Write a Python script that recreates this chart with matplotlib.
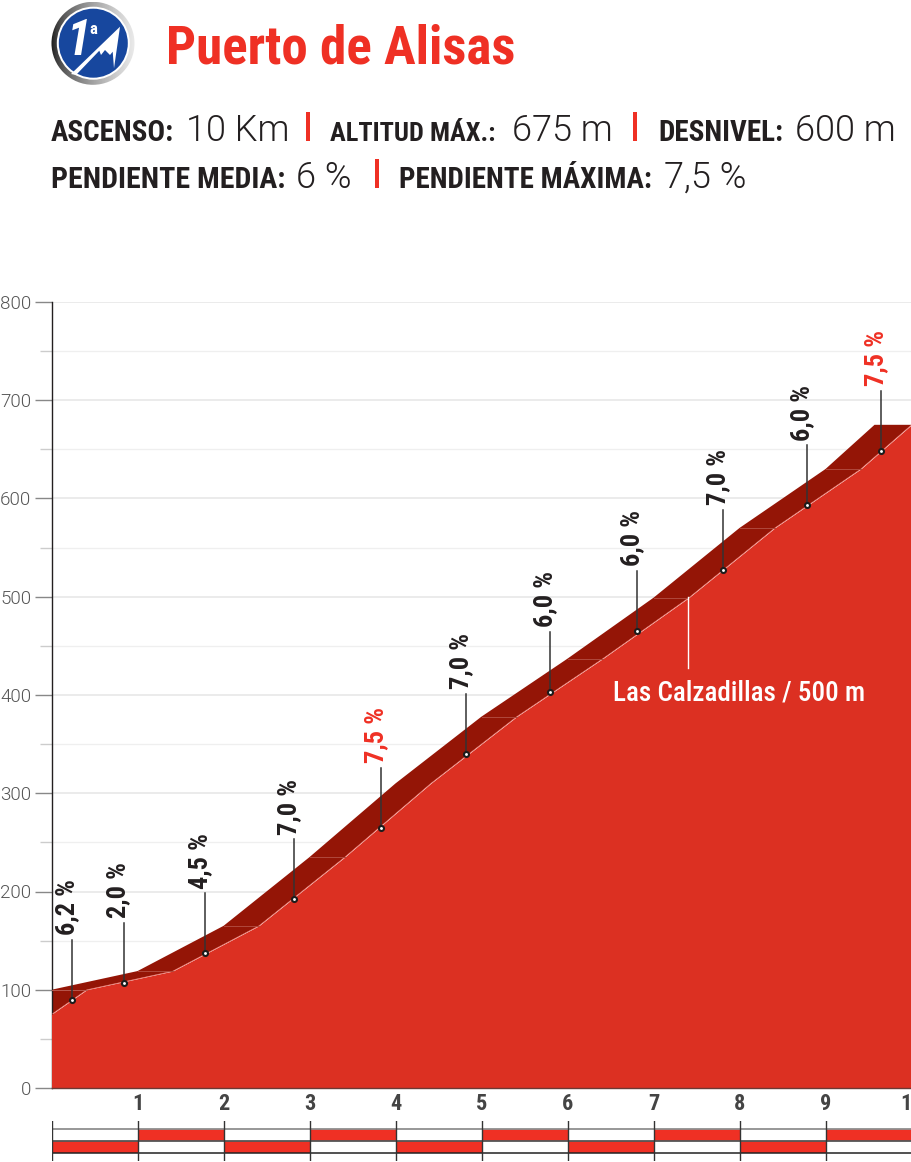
import matplotlib
matplotlib.use('Agg')
import matplotlib.pyplot as plt
import numpy as np
from matplotlib.patches import Circle, Polygon, Rectangle

# perfil del puerto (km, altitud)
km_top = [0, 1, 2, 3, 4, 5, 6, 7, 8, 9, 9.57, 10]
alt_top = [100, 119, 165, 235, 310, 378, 437, 499, 570, 630, 675, 675]
km_low = [0, 0.41, 1.41, 2.41, 3.41, 4.41, 5.41, 6.41, 7.41, 8.41, 9.41, 10]
alt_low = [75, 100, 119, 165, 235, 310, 378, 437, 499, 570, 630, 675]
km_sin_linea = [4]

# pendientes
km_pend = [0.24, 0.84, 1.79, 2.82, 3.83, 4.82, 5.80, 6.81, 7.81, 8.79, 9.65]
alt_pend = [90, 107, 137, 192, 265, 340, 403, 465, 527, 593, 648]
pendientes = ['6,2 %', '2,0 %', '4,5 %', '7,0 %', '7,5 %', '7,0 %', '6,0 %', '6,0 %', '7,0 %', '6,0 %', '7,5 %']
pend_rojas = ['7,5 %']

y_ticks = [0, 100, 200, 300, 400, 500, 600, 700, 800]
y_minor = [50, 150, 250, 350, 450, 550, 650, 750]
km_ticks = [1, 2, 3, 4, 5, 6, 7, 8, 9, 10]

NARROW = 'Roboto Condensed'
LIGHT = 'Roboto'

ROJO = '#dc3022'
OSCURO = '#941506'
ROJO_TXT = '#ef3024'
NEGRO = '#231f20'
W, H = 911, 1162

fig = plt.figure(figsize=(W / 100, H / 100), dpi=100, facecolor='white')

# grafico principal, eje en pixeles: x 51.5-911, y 302-1088
ax = fig.add_axes([51.5 / W, 1 - 1088 / H, (W - 51.5) / W, (1088 - 302) / H])
ax.set_xlim(0, (W - 51.5) / 86)
ax.set_ylim(0, 800)
ax.patch.set_alpha(0)
for s in ['top', 'right']:
    ax.spines[s].set_visible(False)
ax.spines['left'].set_color(NEGRO)
ax.spines['left'].set_linewidth(1)
ax.spines['bottom'].set_color('#6b3a36')
ax.spines['bottom'].set_linewidth(1)
ax.spines['bottom'].set_zorder(6)

ax.set_yticks(y_ticks)
ax.set_yticks(y_minor, minor=True)
ax.set_yticklabels([str(v) for v in y_ticks], family=LIGHT, weight=300, fontsize=13.5, color='#555555')
ax.tick_params(axis='y', which='major', length=12.5, width=1, color='#888888', pad=2)
ax.tick_params(axis='y', which='minor', length=9, width=1, color='#cccccc')
ax.set_xticks([])
ax.grid(False)
for v in y_ticks[1:]:
    ax.axhline(v, color='#e6e6e6', lw=1.1, zorder=1)
for v in y_minor:
    ax.axhline(v, color='#efefef', lw=0.9, zorder=1)

# banda oscura y cuerpo rojo
ax.fill(km_top + km_low[::-1], alt_top + alt_low[::-1], color=OSCURO, lw=0, zorder=2)
ax.fill_between(km_low, 0, alt_low, color=ROJO, lw=0, zorder=3)
ax.plot(km_low, alt_low, color='#e2584c', lw=0.4, zorder=3)

# lineas finas dentro de la banda
ax.plot([0, 0.41], [100, 100], color='#b9584e', lw=0.7, zorder=3)
for i in range(1, 10):
    if km_top[i] in km_sin_linea:
        continue
    ax.plot([km_top[i], km_low[i + 1]], [alt_top[i], alt_low[i + 1]], color='#b0483c', lw=0.7, zorder=3)

# palitos con la pendiente de cada km
for k, a, p in zip(km_pend, alt_pend, pendientes):
    rojo = p in pend_rojas
    ax.plot([k, k], [a, a + 61], color='#333333', lw=1.1, zorder=4, clip_on=False)
    ax.plot(k, a, 'o', ms=3.6, mfc='white', mec='#1c1c1c', mew=1.5, zorder=5, clip_on=False)
    ax.text(k + 0.08, a + 66, p, rotation=90, ha='right', va='bottom', family=NARROW, weight='bold',
            fontsize=19, color=ROJO_TXT if rojo else NEGRO, clip_on=False, zorder=5)

# Las Calzadillas
ax.plot([7.4, 7.4], [427, 500], color='white', lw=1, zorder=5)
ax.text(8.0, 402, 'Las Calzadillas / 500 m', ha='center', va='center', family=NARROW,
        weight='medium', fontsize=19.5, color='white', zorder=5)

# numeros de km
for k in km_ticks:
    ax.text(k, -16.5, str(k), ha='center', va='center', family=NARROW, weight='bold',
            fontsize=16, color='#444444', clip_on=False)

# tira de kilometros
strip = fig.add_axes([51.5 / W, 1 - 1161 / H, (W - 51.5) / W, 40 / H])
strip.set_xlim(0, (W - 51.5) / 86)
strip.set_ylim(40, 0)
strip.axis('off')
for k in range(10):
    y0 = 20 if k % 2 == 0 else 8
    strip.add_patch(Rectangle((k, y0), 1, 12, fc=ROJO_TXT, ec='none', zorder=1))
strip.plot([0, 10.1], [8, 8], color='#8f8f8f', lw=1.3, zorder=2)
strip.plot([0, 10.1], [20, 20], color='#555555', lw=1.3, zorder=2)
strip.plot([0, 10.1], [32, 32], color='#222222', lw=1.1, zorder=2)
for k in range(10):
    strip.plot([k, k], [0, 40], color='#333333', lw=1, zorder=3)

# cabecera, coordenadas en pixeles
top = fig.add_axes([0, 0, 1, 1])
top.set_xlim(0, W)
top.set_ylim(H, 0)
top.axis('off')
top.patch.set_alpha(0)

# insignia 1a, aro metalico de oscuro a claro
aro = Circle((93, 43.3), 41.5, transform=top.transData)
brillo = np.linspace(0, 1, 64).reshape(1, -1) ** 0.6
im = top.imshow(brillo, extent=(51, 135, 85, 2), cmap='gray', vmin=-0.1, vmax=1.1, aspect='auto', zorder=1)
im.set_clip_path(aro)
top.set_xlim(0, W)
top.set_ylim(H, 0)
top.add_patch(Circle((93.3, 43.2), 36.5, fc='white', ec='none', zorder=2))
top.add_patch(Circle((93.3, 43.2), 34.5, fc='#17479e', ec='none', zorder=2))
top.add_patch(Polygon([(71, 74), (120, 26.7), (114, 68.3), (112.7, 51.7), (110, 55), (105, 50), (101, 55),
                       (99.3, 50.7), (76, 75)], fc='white', ec='none', zorder=3))
top.text(79, 41.5, '1', family=NARROW, weight='bold', style='italic', fontsize=35, color='white',
         ha='center', va='center', zorder=3)
top.text(93, 29, 'a', family=NARROW, weight='bold', fontsize=12, color='white', ha='center', va='center', zorder=3)

top.text(166, 63, 'Puerto de Alisas', family=NARROW, weight='bold', fontsize=38.2, color=ROJO_TXT,
         ha='left', va='baseline')

# datos de la subida
lineas = [
    (141, [('ASCENSO:', 51, True), ('10 Km', 186, False), ('ALTITUD MÁX.:', 330, True),
           ('675 m', 512, False), ('DESNIVEL:', 658, True), ('600 m', 795, False)], [308, 635]),
    (187.5, [('PENDIENTE MEDIA:', 51, True), ('6 %', 296, False), ('PENDIENTE MÁXIMA:', 399, True),
             ('7,5 %', 664, False)], [377]),
]
for base, partes, barras in lineas:
    for txt, x, negrita in partes:
        if negrita:
            size = 19 if txt.startswith('ALTITUD') else 21.5 if txt.endswith('MEDIA:') else 21
            top.text(x, base, txt, family=NARROW, weight='bold', fontsize=size, color=NEGRO, ha='left', va='baseline')
        else:
            top.text(x, base, txt, family=LIGHT, weight=300, fontsize=26, color=NEGRO, ha='left', va='baseline')
    for x in barras:
        top.add_patch(Rectangle((x - 2, base - 29), 4, 29, fc=ROJO_TXT, ec='none'))

fig.savefig('out.png', dpi=100)
